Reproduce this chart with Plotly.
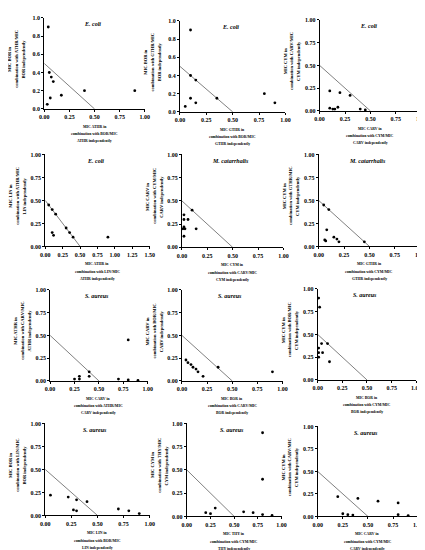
import plotly.graph_objects as go

W, H = 425, 550

# ---------------- data ----------------
organisms = ["E. coli", "E. coli", "E. coli",
             "E. coli", "M. catarrhalis", "M. catarrhalis",
             "S. aureus", "S. aureus", "S. aureus",
             "S. aureus", "S. aureus", "S. aureus"]

# (x compound, y compound) for each panel
pairs = [("ATHR", "BOR"), ("GTHR", "BOR"), ("CARV", "CYM"),
         ("ATHR", "LIN"), ("CYM", "CARV"), ("GTHR", "CYM"),
         ("CARV", "ATHR"), ("BOR", "CARV"), ("BOR", "CYM"),
         ("LIN", "BOR"), ("THY", "CYM"), ("CARV", "CYM")]

p1_x = [0.04, 0.05, 0.07, 0.09, 0.06, 0.03, 0.17, 0.40, 0.90]
p1_y = [0.90, 0.40, 0.35, 0.30, 0.12, 0.05, 0.15, 0.20, 0.20]
p2_x = [0.10, 0.10, 0.15, 0.10, 0.15, 0.05, 0.35, 0.80, 0.90]
p2_y = [0.90, 0.40, 0.35, 0.15, 0.10, 0.06, 0.15, 0.20, 0.10]
p3_x = [0.10, 0.20, 0.30, 0.10, 0.13, 0.15, 0.18, 0.40, 0.45]
p3_y = [0.22, 0.20, 0.17, 0.03, 0.02, 0.02, 0.04, 0.02, 0.01]
p4_x = [0.05, 0.10, 0.15, 0.30, 0.35, 0.40, 0.10, 0.12, 0.90]
p4_y = [0.45, 0.40, 0.35, 0.20, 0.15, 0.10, 0.15, 0.12, 0.10]
p5_x = [0.02, 0.02, 0.06, 0.10, 0.02, 0.03, 0.14, 0.02, 0.01]
p5_y = [0.35, 0.30, 0.30, 0.40, 0.22, 0.20, 0.20, 0.12, 0.20]
p6_x = [0.05, 0.10, 0.08, 0.15, 0.18, 0.20, 0.06, 0.07, 0.45]
p6_y = [0.45, 0.40, 0.18, 0.10, 0.08, 0.05, 0.07, 0.06, 0.05]
p7_x = [0.80, 0.40, 0.40, 0.30, 0.30, 0.25, 0.70, 0.80, 0.90]
p7_y = [0.45, 0.10, 0.05, 0.05, 0.02, 0.02, 0.02, 0.01, 0.005]
p8_x = [0.04, 0.06, 0.09, 0.11, 0.14, 0.16, 0.21, 0.36, 0.90]
p8_y = [0.23, 0.20, 0.18, 0.15, 0.13, 0.10, 0.05, 0.15, 0.10]
p9_x = [0.01, 0.02, 0.04, 0.10, 0.01, 0.01, 0.05, 0.01, 0.12]
p9_y = [0.90, 0.80, 0.40, 0.40, 0.35, 0.30, 0.30, 0.25, 0.20]
p10_x = [0.05, 0.22, 0.30, 0.40, 0.27, 0.30, 0.70, 0.80, 0.90]
p10_y = [0.22, 0.20, 0.17, 0.15, 0.06, 0.05, 0.07, 0.05, 0.02]
p11_x = [0.80, 0.80, 0.30, 0.20, 0.25, 0.60, 0.70, 0.80, 0.90]
p11_y = [0.90, 0.40, 0.09, 0.04, 0.03, 0.05, 0.04, 0.02, 0.01]
p12_x = [0.20, 0.40, 0.60, 0.80, 0.25, 0.30, 0.35, 0.80, 0.90]
p12_y = [0.22, 0.20, 0.17, 0.15, 0.03, 0.02, 0.015, 0.02, 0.01]

xs = [p1_x, p2_x, p3_x, p4_x, p5_x, p6_x, p7_x, p8_x, p9_x, p10_x, p11_x, p12_x]
ys = [p1_y, p2_y, p3_y, p4_y, p5_y, p6_y, p7_y, p8_y, p9_y, p10_y, p11_y, p12_y]

# additivity line (FIC = 1)
iso_x = [0.0, 0.5]
iso_y = [0.5, 0.0]

tick_1dec = [0, 0.2, 0.4, 0.6, 0.8, 1.0]
tick_1dec_txt = ["0.0", "0.2", "0.4", "0.6", "0.8", "1.0"]
tick_q = [0, 0.25, 0.5, 0.75, 1.0]
tick_q_txt = ["0.00", "0.25", "0.50", "0.75", "1.00"]
tick_q15 = [0, 0.25, 0.5, 0.75, 1.0, 1.25, 1.5]
tick_q15_txt = ["0.00", "0.25", "0.50", "0.75", "1.00", "1.25", "1.50"]

# ---------------- layout (pixel boxes: left, right, top, bottom) ----------------
boxes = [(32, 135, 7, 99), (171, 279, 10, 102), (314, 418, 9, 101),
         (33, 140, 145, 238), (173, 277, 145, 239), (313, 417, 145, 238),
         (38, 138, 282, 374), (173, 276, 282, 374), (312, 413, 281, 373),
         (33, 140, 417, 510), (178, 275, 417, 511), (312, 415, 420, 511)]

FONT = "Liberation Serif"
fig = go.Figure()
layout = dict(width=W, height=H, margin=dict(l=0, r=0, t=0, b=0),
              plot_bgcolor="white", paper_bgcolor="white", showlegend=False)
annotations = []

for i in range(12):
    n = "" if i == 0 else str(i + 1)
    xa, ya = "x" + n, "y" + n
    x0, x1, yt, yb = boxes[i]
    xmax = 1.5 if i == 3 else 1.0
    if i == 3:
        xtv, xtt = tick_q15, tick_q15_txt
    else:
        xtv, xtt = tick_q, tick_q_txt
    if i in (0, 1):
        ytv, ytt = tick_1dec, tick_1dec_txt
    else:
        ytv, ytt = tick_q, tick_q_txt

    fig.add_trace(go.Scatter(x=iso_x, y=iso_y, mode="lines",
                             line=dict(color="#808080", width=1),
                             xaxis=xa, yaxis=ya, hoverinfo="skip"))
    fig.add_trace(go.Scatter(x=xs[i], y=ys[i], mode="markers",
                             marker=dict(color="black", size=2.8),
                             xaxis=xa, yaxis=ya, cliponaxis=False))

    axstyle = dict(showgrid=False, zeroline=False, showline=True,
                   linecolor="black", linewidth=1, ticks="outside",
                   ticklen=2, tickwidth=1, tickcolor="black",
                   tickfont=dict(family=FONT, size=6, color="black", weight="bold"))
    layout["xaxis" + n] = dict(domain=[x0 / W, x1 / W], range=[0, xmax],
                               tickvals=xtv, ticktext=xtt, anchor=ya, **axstyle)
    layout["yaxis" + n] = dict(domain=[1 - yb / H, 1 - yt / H], range=[0, 1.0],
                               tickvals=ytv, ticktext=ytt, anchor=xa, **axstyle)

    cx, cy = pairs[i]
    xlines = [f"MIC {cx} in", f"combination with {cy}/MIC", f"{cx} independently"]
    ylines = [f"MIC {cy} in", f"combination with {cx}/MIC", f"{cy} independently"]
    for txt, off in zip(xlines, [-18, -25.5, -32.5]):
        annotations.append(dict(text=txt, xref="paper", yref="paper",
                                x=(x0 + x1) / 2 / W, y=1 - (yb - off) / H,
                                xanchor="center", yanchor="middle",
                                showarrow=False,
                                font=dict(family=FONT, size=3.8, color="black", weight="bold")))
    for txt, off in zip(ylines, [-35, -28, -21]):
        annotations.append(dict(text=txt, xref="paper", yref="paper",
                                x=(x0 + off) / W, y=1 - (yt + 0.45 * (yb - yt)) / H,
                                xanchor="center", yanchor="middle",
                                textangle=-90, showarrow=False,
                                font=dict(family=FONT, size=4.5, color="black", weight="bold")))
    annotations.append(dict(text=organisms[i], xref="paper", yref="paper",
                            x=(x0 + 0.48 * (x1 - x0)) / W, y=1 - (yt + 0.07 * (yb - yt)) / H,
                            xanchor="center", yanchor="middle", showarrow=False,
                            font=dict(family=FONT, size=6, color="black",
                                      style="italic", weight="bold")))

layout["annotations"] = annotations
fig.update_layout(**layout)
fig.write_html("out.html")
